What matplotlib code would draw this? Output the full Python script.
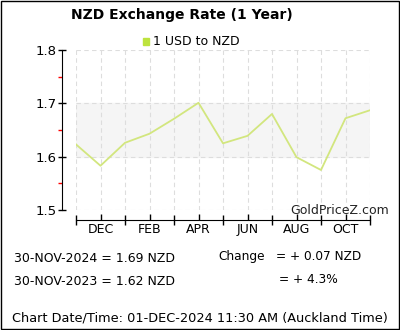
import numpy as np
import matplotlib
import matplotlib.pyplot as plt
from matplotlib.patches import Rectangle

matplotlib.use('Agg')

# monthly points, 30-NOV-2023 .. 30-NOV-2024
rates = [1.623, 1.583, 1.626, 1.643, 1.671, 1.701, 1.625, 1.639,
         1.680, 1.599, 1.575, 1.672, 1.687]
month_labels = ['DEC', 'FEB', 'APR', 'JUN', 'AUG', 'OCT']
label_pos = [1, 3, 5, 7, 9, 11]
y_ticks = [1.5, 1.6, 1.7, 1.8]
y_minor = [1.55, 1.65, 1.75]
line_col = '#d2e67e'

fig = plt.figure(figsize=(4, 3.3), dpi=100)
ax = fig.add_axes([0.19, 0.3636, 0.735, 0.485])
x = np.arange(len(rates))

ax.axhspan(1.6, 1.7, color='#f5f5f5', zorder=0)
ax.plot(x, rates, color=line_col, lw=1.3, zorder=3)

ax.set_xlim(0, len(rates) - 1)
ax.set_ylim(1.5, 1.8)
for xi in x:
    ax.axvline(xi, color='#dddddd', lw=0.8, ls=(0, (4, 3)), zorder=1)
for yi in y_ticks:
    ax.axhline(yi, color='#dddddd', lw=0.8, ls=(0, (4, 3)), zorder=1)

for s in ['top', 'right']:
    ax.spines[s].set_visible(False)
ax.spines['left'].set_position(('outward', 10))
ax.spines['bottom'].set_position(('outward', 7))
ax.spines['left'].set_bounds(1.5, 1.8)

ax.set_yticks(y_ticks)
ax.set_yticklabels(['1.5', '1.6', '1.7', '1.8'], fontsize=9.5)
ax.set_yticks(y_minor, minor=True)
ax.tick_params(axis='y', which='major', direction='inout', length=6, width=1, pad=1)
ax.tick_params(axis='y', which='minor', direction='out', length=3, width=1, color='red')

ax.set_xticks(x[::2])
ax.set_xticklabels([])
ax.set_xticks(label_pos, minor=True)
ax.set_xticklabels(month_labels, minor=True, fontsize=9)
ax.tick_params(axis='x', which='major', direction='inout', length=7, width=1)
ax.tick_params(axis='x', which='minor', direction='in', length=4, width=1, pad=2)

ax.text(1.065, 0.0, 'GoldPriceZ.com', transform=ax.transAxes, ha='right', va='center',
        fontsize=9, color='#222222', zorder=5)

fig.text(0.455, 0.955, 'NZD Exchange Rate (1 Year)', ha='center', va='center',
         fontsize=10, fontweight='bold')
fig.patches.append(Rectangle((0.357, 0.865), 0.016, 0.02, transform=fig.transFigure,
                             color='#bde33e', figure=fig))
fig.text(0.383, 0.875, '1 USD to NZD', ha='left', va='center', fontsize=9)

fig.text(0.035, 0.218, '30-NOV-2024 = 1.69 NZD', ha='left', va='center', fontsize=9)
fig.text(0.035, 0.148, '30-NOV-2023 = 1.62 NZD', ha='left', va='center', fontsize=9)
fig.text(0.545, 0.224, 'Change', ha='left', va='center', fontsize=8.7)
fig.text(0.69, 0.224, '= + 0.07 NZD', ha='left', va='center', fontsize=8.7)
fig.text(0.697, 0.152, '= + 4.3%', ha='left', va='center', fontsize=8.7)
fig.text(0.03, 0.036, 'Chart Date/Time: 01-DEC-2024 11:30 AM (Auckland Time)',
         ha='left', va='center', fontsize=9.3)

fig.patches.append(Rectangle((0.002, 0.004), 0.996, 0.992, transform=fig.transFigure,
                             fill=False, edgecolor='black', lw=1, figure=fig))

fig.savefig('out.png', dpi=100)
